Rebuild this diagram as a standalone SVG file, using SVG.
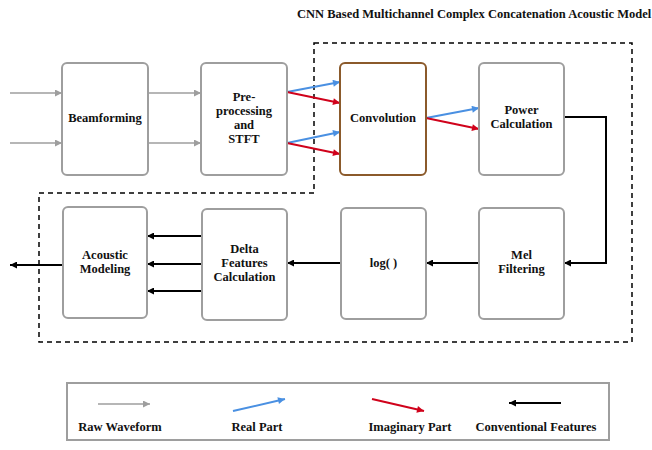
<svg xmlns="http://www.w3.org/2000/svg" width="652" height="450" viewBox="0 0 652 450">
  <style>
    .box { fill: #ffffff; stroke: #9e9e9e; stroke-width: 2; }
    .conv { fill: #ffffff; stroke: #8b5a2b; stroke-width: 2; }
    .lbl { font-family: "Liberation Serif", "Times New Roman", serif; font-weight: bold; font-size: 12.5px; fill: #111; text-anchor: middle; dominant-baseline: central; }
    .title { font-family: "Liberation Serif", "Times New Roman", serif; font-weight: bold; font-size: 12.5px; fill: #111; }
    .raw { stroke: #9e9e9e; stroke-width: 1.5; fill: none; marker-end: url(#ahGray); }
    .real { stroke: #4a90e2; stroke-width: 2; fill: none; marker-end: url(#ahBlue); }
    .imag { stroke: #d0021b; stroke-width: 2; fill: none; marker-end: url(#ahRed); }
    .feat { stroke: #000; stroke-width: 2; fill: none; marker-end: url(#ahBlack); }
    .dash { stroke: #000; stroke-width: 1.5; stroke-dasharray: 5 4; fill: none; }
  </style>
  <defs>
    <marker id="ahGray" viewBox="0 0 10 10" refX="10" refY="5" markerUnits="userSpaceOnUse" markerWidth="9" markerHeight="7" orient="auto">
      <path d="M0,0 L10,5 L0,10 z" fill="#9e9e9e"/>
    </marker>
    <marker id="ahBlue" viewBox="0 0 10 10" refX="10" refY="5" markerUnits="userSpaceOnUse" markerWidth="10" markerHeight="7" orient="auto">
      <path d="M0,0 L10,5 L0,10 z" fill="#4a90e2"/>
    </marker>
    <marker id="ahRed" viewBox="0 0 10 10" refX="10" refY="5" markerUnits="userSpaceOnUse" markerWidth="10" markerHeight="7" orient="auto">
      <path d="M0,0 L10,5 L0,10 z" fill="#d0021b"/>
    </marker>
    <marker id="ahBlack" viewBox="0 0 10 10" refX="10" refY="5" markerUnits="userSpaceOnUse" markerWidth="10" markerHeight="7" orient="auto">
      <path d="M0,0 L10,5 L0,10 z" fill="#000"/>
    </marker>
  </defs>

  <rect width="652" height="450" fill="#ffffff"/>

  <text class="title" x="297" y="18">CNN Based Multichannel Complex Concatenation Acoustic Model</text>

  <!-- model boundary -->
  <path class="dash" d="M314,43 L632,43 L632,342 L39,342 L39,193 L314,193 Z"/>

  <!-- connectors -->
  <g id="connectors">
    <line class="raw" x1="10" y1="93" x2="62" y2="93"/>
    <line class="raw" x1="10" y1="143" x2="62" y2="143"/>
    <line class="raw" x1="148" y1="93" x2="201" y2="93"/>
    <line class="raw" x1="148" y1="143" x2="201" y2="143"/>

    <line class="real" x1="287" y1="92" x2="340" y2="82"/>
    <line class="imag" x1="287" y1="92" x2="340" y2="103"/>
    <line class="real" x1="287" y1="143" x2="340" y2="132"/>
    <line class="imag" x1="287" y1="143" x2="340" y2="154"/>

    <line class="real" x1="426" y1="118" x2="479" y2="108"/>
    <line class="imag" x1="426" y1="118" x2="479" y2="129"/>

    <path class="feat" d="M564,117 L606,117 L606,263 L564,263"/>
    <line class="feat" x1="479" y1="263" x2="426" y2="263"/>
    <line class="feat" x1="341" y1="263" x2="287" y2="263"/>
    <line class="feat" x1="202" y1="236" x2="147" y2="236"/>
    <line class="feat" x1="202" y1="264" x2="147" y2="264"/>
    <line class="feat" x1="202" y1="291" x2="147" y2="291"/>
    <line class="feat" x1="63" y1="265" x2="10" y2="265"/>
  </g>

  <!-- nodes -->
  <g id="beamforming">
    <rect class="box" x="62" y="63" width="86" height="112" rx="5"/>
    <text class="lbl" x="105" y="118">Beamforming</text>
  </g>
  <g id="preprocessing">
    <rect class="box" x="201" y="63" width="86" height="112" rx="5"/>
    <text class="lbl" x="244" y="97">Pre-</text>
    <text class="lbl" x="244" y="111">processing</text>
    <text class="lbl" x="244" y="125">and</text>
    <text class="lbl" x="244" y="139">STFT</text>
  </g>
  <g id="convolution">
    <rect class="conv" x="340" y="63" width="86" height="112" rx="5"/>
    <text class="lbl" x="383" y="118">Convolution</text>
  </g>
  <g id="power">
    <rect class="box" x="479" y="63" width="85" height="112" rx="5"/>
    <text class="lbl" x="521.5" y="110">Power</text>
    <text class="lbl" x="521.5" y="124">Calculation</text>
  </g>
  <g id="mel">
    <rect class="box" x="479" y="208" width="85" height="111" rx="5"/>
    <text class="lbl" x="521.5" y="255">Mel</text>
    <text class="lbl" x="521.5" y="269">Filtering</text>
  </g>
  <g id="log">
    <rect class="box" x="341" y="208" width="85" height="111" rx="5"/>
    <text class="lbl" x="383.5" y="263">log( )</text>
  </g>
  <g id="delta">
    <rect class="box" x="202" y="209" width="85" height="111" rx="5"/>
    <text class="lbl" x="244.5" y="249">Delta</text>
    <text class="lbl" x="244.5" y="263">Features</text>
    <text class="lbl" x="244.5" y="277">Calculation</text>
  </g>
  <g id="acoustic">
    <rect class="box" x="63" y="207" width="84" height="111" rx="5"/>
    <text class="lbl" x="105" y="255">Acoustic</text>
    <text class="lbl" x="105" y="269">Modeling</text>
  </g>

  <!-- legend -->
  <g id="legend">
    <rect x="67" y="383" width="542" height="57" fill="#ffffff" stroke="#9e9e9e" stroke-width="2"/>
    <line class="raw" x1="98" y1="404" x2="150" y2="404"/>
    <text class="lbl" x="120" y="427">Raw Waveform</text>
    <line class="real" x1="233" y1="411" x2="285" y2="399"/>
    <text class="lbl" x="257" y="427">Real Part</text>
    <line class="imag" x1="372" y1="399" x2="424" y2="411"/>
    <text class="lbl" x="410" y="427">Imaginary Part</text>
    <line class="feat" x1="561" y1="403" x2="509" y2="403"/>
    <text class="lbl" x="536" y="427">Conventional Features</text>
  </g>
</svg>
